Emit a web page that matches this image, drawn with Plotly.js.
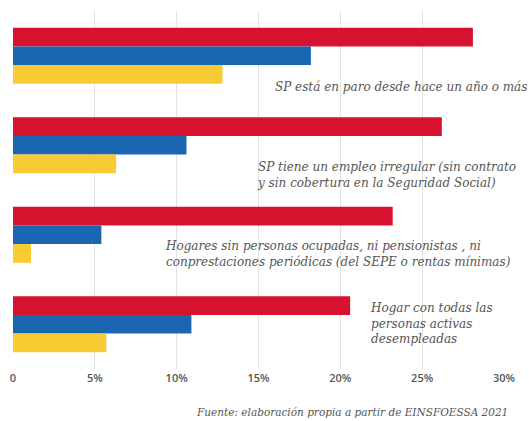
<!DOCTYPE html>
<html>
<head>
<meta charset="utf-8">
<script src="https://cdn.plot.ly/plotly-3.0.1.min.js"></script>
<style>html,body{margin:0;padding:0;background:#fff;}#chart{width:529px;height:421px;}</style>
</head>
<body>
<div id="chart"></div>
<script>
// Data
var categories = [
  "SP está en paro desde hace un año o más",
  "SP tiene un empleo irregular (sin contrato<br>y sin cobertura en la Seguridad Social)",
  "Hogares sin personas ocupadas, ni pensionistas , ni<br>conprestaciones periódicas (del SEPE o rentas mínimas)",
  "Hogar con todas las<br>personas activas<br>desempleadas"
];
var seriesNames = ["Serie 1", "Serie 2", "Serie 3"];
var redValues = [28.1, 26.2, 23.2, 20.6];
var blueValues = [18.2, 10.6, 5.4, 10.9];
var yellowValues = [12.8, 6.3, 1.1, 5.7];
var tickValues = [0, 5, 10, 15, 20, 25, 30];
var tickLabels = ["0", "5%", "10%", "15%", "20%", "25%", "30%"];
var sourceText = "Fuente: elaboración propia a partir de EINSFOESSA 2021";

// Styles (label placement)
var labelX = [15.9, 14.8, 9.15, 21.7];
var labelYShift = [-31, -30, -19, 1];
var colors = ["#D7122F", "#1B66B0", "#F8CB33"];

var values = [redValues, blueValues, yellowValues];
var traces = values.map(function (v, i) {
  return {
    type: "bar",
    orientation: "h",
    name: seriesNames[i],
    x: v,
    y: categories,
    marker: {color: colors[i]},
    hoverinfo: "x"
  };
});

var annotations = categories.map(function (c, i) {
  return {
    x: labelX[i], y: c, xref: "x", yref: "y",
    text: c, showarrow: false,
    xanchor: "left", yanchor: "middle", align: "left",
    yshift: labelYShift[i],
    font: {family: "DejaVu Serif", size: 12, color: "#555555", style: "italic"}
  };
});
var W = 529, H = 421, m = {l: 13, r: 25, t: 11, b: 52};
annotations.push({
  x: (510 - m.l) / (W - m.l - m.r), y: (H - m.b - 412) / (H - m.t - m.b),
  xref: "paper", yref: "paper",
  text: sourceText, showarrow: false,
  xanchor: "right", yanchor: "middle",
  font: {family: "DejaVu Serif", size: 10.5, color: "#555555", style: "italic"}
});

var layout = {
  width: W, height: H,
  margin: m,
  paper_bgcolor: "#ffffff",
  plot_bgcolor: "#ffffff",
  barmode: "group",
  bargap: 0.374,
  bargroupgap: 0,
  showlegend: false,
  xaxis: {
    range: [0, 30],
    tickvals: tickValues,
    ticktext: tickLabels,
    showgrid: true,
    gridcolor: "#e2e2e2",
    gridwidth: 1,
    zeroline: false,
    showline: false,
    ticks: "",
    ticklabelstandoff: 1,
    tickfont: {family: "Open Sans", size: 11, color: "#555555", weight: 600},
    fixedrange: true
  },
  yaxis: {
    autorange: "reversed",
    showticklabels: false,
    showgrid: false,
    zeroline: false,
    ticks: "",
    fixedrange: true
  },
  annotations: annotations
};

Plotly.newPlot("chart", traces, layout, {displayModeBar: false, staticPlot: true});
</script>
</body>
</html>
